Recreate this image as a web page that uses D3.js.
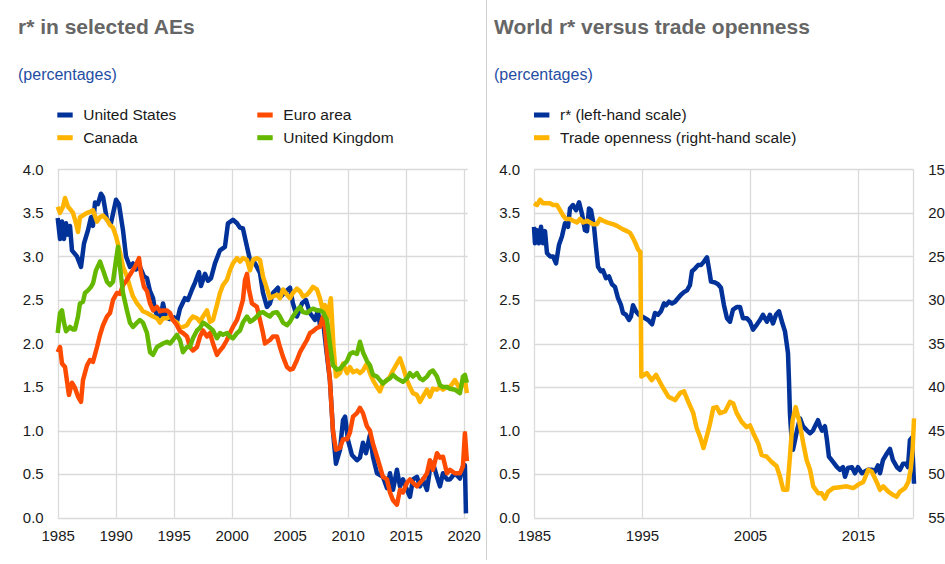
<!DOCTYPE html>
<html>
<head>
<meta charset="utf-8">
<script src="https://cdn.jsdelivr.net/npm/d3@7"></script>
<style>
  body { margin: 0; background: #fff; }
  svg { display: block; font-family: Arial, "Liberation Sans", sans-serif; }
</style>
</head>
<body>
<svg id="chart" width="945" height="564"></svg>
<script>
// ---- data: [decimal year, value] ----
const usData = [[1985.00,3.44],[1985.20,3.20],[1985.37,3.40],[1985.54,3.20],[1985.72,3.38],[1985.89,3.25],[1986.06,3.35],[1986.23,3.07],[1986.66,3.00],[1987.01,2.88],[1987.27,3.15],[1987.61,3.30],[1987.87,3.45],[1988.04,3.35],[1988.22,3.62],[1988.47,3.60],[1988.73,3.72],[1988.91,3.68],[1989.25,3.42],[1989.59,3.38],[1990.03,3.65],[1990.28,3.60],[1990.63,3.30],[1990.89,3.00],[1991.23,2.88],[1991.49,2.92],[1991.75,2.85],[1992.09,2.88],[1992.44,2.77],[1992.70,2.75],[1992.96,2.60],[1993.22,2.52],[1993.39,2.38],[1993.65,2.30],[1993.91,2.32],[1994.08,2.46],[1994.34,2.30],[1994.68,2.28],[1995.03,2.30],[1995.28,2.25],[1995.54,2.40],[1995.97,2.52],[1996.23,2.50],[1996.58,2.62],[1996.84,2.70],[1997.18,2.82],[1997.35,2.66],[1997.70,2.80],[1997.96,2.72],[1998.22,2.75],[1998.56,2.92],[1998.99,3.07],[1999.42,3.11],[1999.68,3.38],[2000.11,3.42],[2000.46,3.38],[2000.72,3.33],[2000.97,3.32],[2001.32,3.11],[2001.58,2.96],[2002.01,2.92],[2002.44,2.81],[2002.70,2.58],[2003.04,2.42],[2003.30,2.46],[2003.56,2.58],[2003.99,2.64],[2004.25,2.54],[2004.59,2.59],[2005.03,2.64],[2005.28,2.46],[2005.63,2.31],[2006.06,2.46],[2006.40,2.50],[2006.75,2.35],[2007.18,2.27],[2007.44,2.38],[2007.61,2.21],[2007.87,2.27],[2008.13,1.96],[2008.47,1.58],[2008.73,1.00],[2008.99,0.62],[2009.34,0.78],[2009.60,1.12],[2009.78,1.16],[2010.03,0.89],[2010.37,0.72],[2010.80,0.66],[2011.06,0.69],[2011.32,0.86],[2011.58,0.74],[2011.92,0.95],[2012.18,0.70],[2012.53,0.51],[2013.04,0.47],[2013.39,0.34],[2013.65,0.51],[2013.91,0.32],[2014.25,0.55],[2014.51,0.36],[2014.77,0.44],[2015.11,0.32],[2015.37,0.24],[2015.63,0.44],[2015.97,0.47],[2016.23,0.36],[2016.49,0.44],[2016.84,0.32],[2017.09,0.55],[2017.35,0.63],[2017.70,0.47],[2017.96,0.36],[2018.22,0.51],[2018.56,0.44],[2018.82,0.44],[2019.25,0.51],[2019.68,0.45],[2019.94,0.59],[2020.11,0.60],[2020.20,0.05]];

const euroData = [[1985.00,1.90],[1985.20,1.96],[1985.37,1.77],[1985.63,1.73],[1985.97,1.41],[1986.23,1.55],[1986.49,1.49],[1986.75,1.39],[1987.01,1.33],[1987.18,1.58],[1987.53,1.75],[1987.78,1.81],[1988.04,1.79],[1988.39,1.96],[1988.65,2.10],[1988.91,2.21],[1989.25,2.31],[1989.51,2.35],[1989.77,2.50],[1990.11,2.58],[1990.37,2.57],[1990.63,2.67],[1990.97,2.73],[1991.23,2.79],[1991.66,2.88],[1992.01,2.98],[1992.18,2.81],[1992.44,2.65],[1992.70,2.60],[1992.96,2.46],[1993.22,2.38],[1993.56,2.42],[1993.82,2.37],[1994.08,2.38],[1994.42,2.38],[1994.68,2.35],[1994.94,2.27],[1995.28,2.21],[1995.54,2.14],[1995.80,2.12],[1996.15,2.08],[1996.40,1.96],[1996.66,1.92],[1997.01,1.96],[1997.27,2.08],[1997.53,2.15],[1997.87,2.08],[1998.13,2.12],[1998.39,2.00],[1998.73,1.87],[1998.99,1.92],[1999.25,1.96],[1999.59,2.04],[1999.85,2.12],[2000.11,2.19],[2000.46,2.27],[2000.72,2.38],[2000.97,2.50],[2001.15,2.73],[2001.32,2.80],[2001.49,2.62],[2001.75,2.46],[2002.18,2.42],[2002.44,2.27],[2002.70,2.12],[2002.87,2.00],[2003.30,2.04],[2003.56,2.08],[2003.91,2.08],[2004.16,1.96],[2004.42,1.85],[2004.77,1.73],[2005.03,1.70],[2005.28,1.71],[2005.63,1.81],[2005.89,1.90],[2006.15,1.96],[2006.49,2.04],[2006.75,2.12],[2007.01,2.14],[2007.35,2.18],[2007.61,2.19],[2007.87,2.31],[2008.04,2.19],[2008.22,1.90],[2008.47,1.58],[2008.73,1.00],[2008.99,0.78],[2009.34,0.80],[2009.60,0.90],[2009.95,0.90],[2010.20,0.98],[2010.46,1.16],[2010.80,1.20],[2011.06,1.26],[2011.32,1.20],[2011.66,1.05],[2011.92,1.00],[2012.18,0.85],[2012.53,0.70],[2012.78,0.59],[2013.04,0.47],[2013.39,0.44],[2013.65,0.29],[2013.91,0.20],[2014.25,0.15],[2014.51,0.32],[2014.77,0.29],[2015.11,0.40],[2015.37,0.44],[2015.63,0.40],[2015.97,0.36],[2016.23,0.40],[2016.49,0.44],[2016.84,0.51],[2017.09,0.66],[2017.35,0.55],[2017.70,0.74],[2017.96,0.69],[2018.22,0.70],[2018.56,0.51],[2018.82,0.55],[2019.25,0.51],[2019.68,0.51],[2019.94,0.59],[2020.11,0.97],[2020.28,0.65]];

const canadaData = [[1985.00,3.57],[1985.20,3.50],[1985.46,3.57],[1985.63,3.67],[1985.89,3.57],[1986.15,3.53],[1986.32,3.50],[1986.58,3.38],[1986.75,3.28],[1986.92,3.45],[1987.18,3.47],[1987.53,3.50],[1987.78,3.51],[1988.04,3.53],[1988.39,3.40],[1988.65,3.45],[1988.91,3.47],[1989.25,3.42],[1989.51,3.36],[1989.77,3.33],[1990.03,3.23],[1990.37,3.05],[1990.63,2.88],[1990.97,2.77],[1991.23,2.65],[1991.49,2.54],[1991.84,2.46],[1992.09,2.42],[1992.35,2.37],[1992.70,2.35],[1992.96,2.33],[1993.22,2.31],[1993.56,2.29],[1993.82,2.24],[1994.08,2.29],[1994.42,2.29],[1994.68,2.31],[1994.94,2.27],[1995.28,2.24],[1995.54,2.18],[1995.80,2.19],[1996.15,2.21],[1996.40,2.27],[1996.66,2.31],[1997.01,2.29],[1997.27,2.25],[1997.53,2.31],[1997.87,2.38],[1998.13,2.25],[1998.39,2.27],[1998.73,2.44],[1998.99,2.58],[1999.25,2.67],[1999.59,2.73],[1999.85,2.84],[2000.11,2.92],[2000.46,2.98],[2000.72,2.94],[2000.97,2.98],[2001.32,2.96],[2001.58,2.84],[2001.84,2.96],[2002.18,2.98],[2002.44,2.96],[2002.70,2.77],[2003.04,2.63],[2003.30,2.52],[2003.56,2.54],[2003.91,2.56],[2004.16,2.52],[2004.42,2.62],[2004.77,2.56],[2005.03,2.52],[2005.28,2.58],[2005.63,2.63],[2005.89,2.60],[2006.15,2.54],[2006.49,2.56],[2006.75,2.60],[2007.01,2.65],[2007.35,2.62],[2007.61,2.52],[2007.87,2.38],[2008.04,2.44],[2008.22,2.27],[2008.55,2.52],[2008.78,1.96],[2008.99,1.62],[2009.34,1.66],[2009.60,1.77],[2009.95,1.66],[2010.20,1.73],[2010.46,1.67],[2010.80,1.69],[2011.06,1.66],[2011.32,1.69],[2011.66,1.77],[2011.92,1.66],[2012.18,1.58],[2012.53,1.50],[2012.78,1.45],[2013.04,1.54],[2013.39,1.58],[2013.65,1.62],[2013.91,1.69],[2014.25,1.77],[2014.51,1.83],[2014.77,1.73],[2015.11,1.58],[2015.37,1.50],[2015.63,1.43],[2015.97,1.41],[2016.23,1.33],[2016.49,1.39],[2016.84,1.47],[2017.09,1.39],[2017.35,1.48],[2017.70,1.47],[2017.96,1.50],[2018.22,1.47],[2018.56,1.50],[2018.82,1.50],[2019.25,1.58],[2019.68,1.48],[2019.94,1.54],[2020.11,1.58],[2020.28,1.43]];

const ukData = [[1985.00,2.12],[1985.20,2.35],[1985.37,2.38],[1985.54,2.24],[1985.72,2.14],[1986.06,2.19],[1986.32,2.16],[1986.49,2.16],[1986.75,2.31],[1986.92,2.46],[1987.18,2.48],[1987.35,2.58],[1987.61,2.61],[1987.87,2.65],[1988.04,2.69],[1988.30,2.84],[1988.65,2.94],[1988.91,2.84],[1989.25,2.71],[1989.51,2.67],[1989.77,2.71],[1990.03,2.96],[1990.20,3.11],[1990.37,2.88],[1990.63,2.58],[1990.97,2.38],[1991.23,2.24],[1991.49,2.19],[1991.84,2.24],[1992.09,2.27],[1992.35,2.24],[1992.70,2.12],[1992.96,1.90],[1993.22,1.87],[1993.56,1.96],[1993.82,1.98],[1994.08,2.00],[1994.42,2.02],[1994.68,2.00],[1994.94,2.04],[1995.28,2.10],[1995.54,2.04],[1995.80,1.90],[1996.15,1.96],[1996.40,1.96],[1996.66,2.06],[1997.01,2.15],[1997.27,2.18],[1997.53,2.24],[1997.87,2.21],[1998.13,2.18],[1998.39,2.15],[1998.73,2.06],[1998.99,2.12],[1999.25,2.10],[1999.59,2.12],[1999.85,2.08],[2000.11,2.06],[2000.46,2.12],[2000.72,2.15],[2000.97,2.24],[2001.32,2.31],[2001.58,2.25],[2001.84,2.27],[2002.18,2.31],[2002.44,2.35],[2002.70,2.36],[2003.04,2.33],[2003.30,2.31],[2003.56,2.35],[2003.91,2.36],[2004.16,2.31],[2004.42,2.24],[2004.77,2.21],[2005.03,2.25],[2005.28,2.31],[2005.63,2.38],[2005.89,2.42],[2006.15,2.36],[2006.49,2.35],[2006.75,2.38],[2007.01,2.40],[2007.35,2.38],[2007.61,2.38],[2007.87,2.36],[2008.22,2.27],[2008.47,2.00],[2008.73,1.75],[2009.08,1.70],[2009.34,1.71],[2009.60,1.75],[2009.95,1.80],[2010.20,1.88],[2010.46,1.90],[2010.80,1.88],[2011.06,2.02],[2011.32,1.90],[2011.66,1.80],[2011.92,1.75],[2012.18,1.64],[2012.53,1.62],[2012.78,1.58],[2013.04,1.54],[2013.39,1.58],[2013.65,1.60],[2013.91,1.64],[2014.25,1.60],[2014.51,1.58],[2014.77,1.56],[2015.11,1.60],[2015.37,1.66],[2015.63,1.62],[2015.97,1.66],[2016.23,1.60],[2016.49,1.58],[2016.84,1.62],[2017.09,1.67],[2017.35,1.69],[2017.70,1.62],[2017.96,1.52],[2018.22,1.50],[2018.56,1.50],[2018.82,1.48],[2019.25,1.47],[2019.68,1.43],[2019.94,1.62],[2020.11,1.64],[2020.28,1.55]];

const worldRStar = [[1985.00,3.34],[1985.09,3.15],[1985.28,3.30],[1985.46,3.15],[1985.65,3.34],[1985.83,3.15],[1986.02,3.29],[1986.20,3.04],[1986.48,3.00],[1986.76,3.00],[1987.04,2.92],[1987.31,3.13],[1987.59,3.23],[1987.87,3.38],[1988.15,3.34],[1988.33,3.55],[1988.61,3.59],[1988.89,3.53],[1989.17,3.62],[1989.44,3.49],[1989.72,3.30],[1989.91,3.29],[1990.09,3.55],[1990.28,3.53],[1990.56,3.34],[1990.74,3.11],[1990.93,2.88],[1991.20,2.83],[1991.39,2.84],[1991.67,2.75],[1991.94,2.77],[1992.22,2.68],[1992.50,2.65],[1992.78,2.52],[1993.06,2.44],[1993.24,2.35],[1993.52,2.33],[1993.80,2.27],[1993.98,2.31],[1994.17,2.44],[1994.44,2.37],[1994.72,2.33],[1995.00,2.31],[1995.28,2.29],[1995.56,2.27],[1995.93,2.22],[1996.20,2.35],[1996.48,2.33],[1996.76,2.37],[1997.04,2.46],[1997.22,2.44],[1997.50,2.48],[1997.78,2.46],[1998.06,2.48],[1998.33,2.52],[1998.61,2.56],[1998.89,2.59],[1999.17,2.61],[1999.44,2.67],[1999.63,2.83],[1999.91,2.86],[2000.19,2.90],[2000.46,2.90],[2000.74,2.94],[2001.02,2.99],[2001.20,2.86],[2001.39,2.71],[2001.76,2.70],[2002.04,2.68],[2002.31,2.64],[2002.59,2.44],[2002.87,2.29],[2003.15,2.25],[2003.43,2.39],[2003.80,2.42],[2004.07,2.42],[2004.35,2.29],[2004.72,2.29],[2005.00,2.25],[2005.28,2.16],[2005.65,2.22],[2005.93,2.27],[2006.20,2.33],[2006.57,2.25],[2006.85,2.33],[2007.13,2.23],[2007.41,2.33],[2007.69,2.37],[2007.96,2.25],[2008.24,2.14],[2008.52,1.89],[2008.61,1.58],[2008.70,1.20],[2008.80,1.00],[2008.98,0.78],[2009.17,0.89],[2009.35,1.00],[2009.63,1.14],[2009.91,1.05],[2010.28,1.00],[2010.56,0.97],[2010.83,1.00],[2011.02,1.05],[2011.30,1.12],[2011.48,1.05],[2011.67,1.00],[2011.94,1.05],[2012.13,0.89],[2012.31,0.70],[2012.69,0.64],[2013.06,0.58],[2013.33,0.55],[2013.61,0.58],[2013.80,0.47],[2014.07,0.57],[2014.44,0.58],[2014.72,0.51],[2015.00,0.58],[2015.37,0.51],[2015.65,0.53],[2015.93,0.55],[2016.30,0.55],[2016.57,0.53],[2016.85,0.60],[2017.04,0.51],[2017.31,0.66],[2017.69,0.74],[2017.96,0.79],[2018.24,0.66],[2018.61,0.58],[2018.89,0.55],[2019.17,0.62],[2019.44,0.62],[2019.63,0.58],[2019.81,0.89],[2020.00,0.92],[2020.19,0.39]];

const tradeOpenness = [[1985.00,18.9],[1985.28,19.1],[1985.56,18.5],[1985.83,18.9],[1986.20,18.9],[1986.48,18.9],[1986.76,19.1],[1987.13,19.1],[1987.41,19.7],[1987.69,20.3],[1987.96,20.7],[1988.33,20.7],[1988.61,20.9],[1988.98,21.1],[1989.26,20.7],[1989.54,21.1],[1989.91,20.9],[1990.19,21.1],[1990.46,21.3],[1990.83,21.3],[1991.11,20.7],[1991.39,20.9],[1991.76,21.1],[1992.04,21.2],[1992.31,21.3],[1992.69,21.5],[1992.96,21.7],[1993.24,21.9],[1993.61,22.1],[1993.89,22.3],[1994.17,22.9],[1994.44,23.6],[1994.63,24.2],[1994.85,24.5],[1994.94,38.8],[1995.44,38.4],[1995.90,39.2],[1996.30,38.6],[1996.82,39.8],[1997.44,41.1],[1998.06,41.5],[1998.52,40.7],[1998.89,40.5],[1999.29,41.7],[1999.75,43.0],[2000.06,44.7],[2000.37,45.7],[2000.69,47.0],[2000.99,45.7],[2001.30,44.2],[2001.60,42.4],[2001.92,42.3],[2002.22,43.0],[2002.69,42.8],[2003.15,41.7],[2003.45,41.9],[2003.77,43.0],[2004.23,44.0],[2004.69,44.6],[2005.00,44.4],[2005.31,45.3],[2005.77,46.5],[2006.08,47.8],[2006.55,48.0],[2007.01,48.6],[2007.47,49.1],[2007.78,50.3],[2008.08,51.8],[2008.45,51.8],[2008.70,48.0],[2008.95,43.8],[2009.23,42.3],[2009.54,43.8],[2009.94,46.5],[2010.25,48.4],[2010.56,49.5],[2010.86,51.4],[2011.32,52.2],[2011.64,52.2],[2011.94,52.8],[2012.25,52.0],[2012.71,51.6],[2013.33,51.5],[2013.95,51.4],[2014.56,51.6],[2015.03,51.2],[2015.49,50.9],[2015.95,49.5],[2016.27,49.7],[2016.73,50.9],[2017.04,51.8],[2017.34,51.4],[2017.81,52.0],[2018.27,52.4],[2018.58,52.6],[2018.89,52.0],[2019.35,51.6],[2019.66,50.9],[2019.88,49.5],[2020.06,47.2],[2020.19,43.6]];

// ticks and labels
const leftYearTicks = [1985, 1990, 1995, 2000, 2005, 2010, 2015, 2020];
const rightYearTicks = [1985, 1995, 2005, 2015];
const rateTicks = [0, 0.5, 1, 1.5, 2, 2.5, 3, 3.5, 4];
const opennessTicks = [15, 20, 25, 30, 35, 40, 45, 50, 55];

const leftSeries = [
  { name: "United States", data: usData, color: "#003299" },
  { name: "Canada", data: canadaData, color: "#ffb400" },
  { name: "Euro area", data: euroData, color: "#ff4b00" },
  { name: "United Kingdom", data: ukData, color: "#65b800" }
];
const leftLegend = [
  { name: "United States", color: "#003299", col: 0, row: 0 },
  { name: "Euro area", color: "#ff4b00", col: 1, row: 0 },
  { name: "Canada", color: "#ffb400", col: 0, row: 1 },
  { name: "United Kingdom", color: "#65b800", col: 1, row: 1 }
];
const rightLegend = [
  { name: "r* (left-hand scale)", color: "#003299" },
  { name: "Trade openness (right-hand scale)", color: "#ffb400" }
];

const svg = d3.select("#chart");
const gridColor = "#dadada";
const plotTop = 169.3, plotBottom = 517.7;

// separator between panels
svg.append("line")
  .attr("x1", 486.5).attr("x2", 486.5)
  .attr("y1", 0).attr("y2", 560)
  .attr("stroke", "#cfcfcf").attr("stroke-width", 1);

function header(x, title) {
  svg.append("text").attr("x", x).attr("y", 34)
    .attr("font-size", "21px").attr("font-weight", "bold")
    .attr("fill", "#666666").text(title);
  svg.append("text").attr("x", x).attr("y", 80)
    .attr("font-size", "16px").attr("fill", "#1f4ea3").text("(percentages)");
}

function styleAxis(g) {
  g.select(".domain").remove();
  g.selectAll("text").attr("fill", "#1a1a1a").attr("font-size", "15px")
    .attr("font-family", "Arial, 'Liberation Sans', sans-serif");
}

function grid(g, x, y, xTicks, x0, x1) {
  g.selectAll("line.h").data(rateTicks).join("line")
    .attr("x1", x0).attr("x2", x1)
    .attr("y1", d => Math.round(y(d)) + 0.5).attr("y2", d => Math.round(y(d)) + 0.5)
    .attr("stroke", gridColor).attr("stroke-width", 1.3);
  g.selectAll("line.v").data(xTicks).join("line")
    .attr("x1", d => Math.round(x(d)) + 0.5).attr("x2", d => Math.round(x(d)) + 0.5)
    .attr("y1", plotTop).attr("y2", plotBottom)
    .attr("stroke", gridColor).attr("stroke-width", 1.3);
}

function drawLine(g, data, x, y, color) {
  const line = d3.line().x(d => x(d[0])).y(d => y(d[1]));
  g.append("path").datum(data)
    .attr("d", line)
    .attr("fill", "none")
    .attr("stroke", color)
    .attr("stroke-width", 4.5)
    .attr("stroke-linejoin", "round");
}

// ---------- left panel ----------
header(18, "r* in selected AEs");

const xL = d3.scaleLinear().domain([1985, 2020.35]).range([57.7, 467.7]);
const yL = d3.scaleLinear().domain([0, 4]).range([plotBottom, plotTop]);

const gl = svg.append("g");
grid(gl.append("g"), xL, yL, leftYearTicks, 57.7, 467.7);

gl.append("g").attr("transform", "translate(57.7,0)")
  .call(d3.axisLeft(yL).tickValues(rateTicks).tickFormat(d3.format(".1f")).tickSize(0).tickPadding(14))
  .call(styleAxis);
gl.append("g").attr("transform", `translate(0,${plotBottom})`)
  .call(d3.axisBottom(xL).tickValues(leftYearTicks).tickFormat(d3.format("d")).tickSize(0).tickPadding(13))
  .call(styleAxis);

leftSeries.forEach(s => drawLine(gl, s.data, xL, yL, s.color));

const lgL = svg.append("g").selectAll("g").data(leftLegend).join("g")
  .attr("transform", d => `translate(${57.3 + d.col * 200},${112.5 + d.row * 22.7})`);
lgL.append("rect").attr("width", 15.4).attr("height", 5).attr("fill", d => d.color);
lgL.append("text").attr("x", 26).attr("y", 7.5)
  .attr("font-size", "15.5px").attr("fill", "#1a1a1a").text(d => d.name);

// ---------- right panel ----------
header(494, "World r* versus trade openness");

const xR = d3.scaleLinear().domain([1985, 2020.16]).range([534, 913.7]);
const yR = d3.scaleLinear().domain([0, 4]).range([plotBottom, plotTop]);
const yT = d3.scaleLinear().domain([15, 55]).range([plotTop, plotBottom]);

const gr = svg.append("g");
grid(gr.append("g"), xR, yR, rightYearTicks, 534, 913.7);
gr.append("line")
  .attr("x1", 913.5).attr("x2", 913.5).attr("y1", plotTop).attr("y2", plotBottom)
  .attr("stroke", gridColor).attr("stroke-width", 1.3);

gr.append("g").attr("transform", "translate(534,0)")
  .call(d3.axisLeft(yR).tickValues(rateTicks).tickFormat(d3.format(".1f")).tickSize(0).tickPadding(14))
  .call(styleAxis);
gr.append("g").attr("transform", "translate(913.7,0)")
  .call(d3.axisRight(yT).tickValues(opennessTicks).tickFormat(d3.format("d")).tickSize(0).tickPadding(14.5))
  .call(styleAxis);
gr.append("g").attr("transform", `translate(0,${plotBottom})`)
  .call(d3.axisBottom(xR).tickValues(rightYearTicks).tickFormat(d3.format("d")).tickSize(0).tickPadding(13))
  .call(styleAxis);

drawLine(gr, worldRStar, xR, yR, "#003299");
drawLine(gr, tradeOpenness, xR, yT, "#ffb400");

const lgR = svg.append("g").selectAll("g").data(rightLegend).join("g")
  .attr("transform", (d, i) => `translate(534,${112.5 + i * 22.7})`);
lgR.append("rect").attr("width", 15.4).attr("height", 5).attr("fill", d => d.color);
lgR.append("text").attr("x", 26).attr("y", 7.5)
  .attr("font-size", "15.5px").attr("fill", "#1a1a1a").text(d => d.name);
</script>
</body>
</html>
